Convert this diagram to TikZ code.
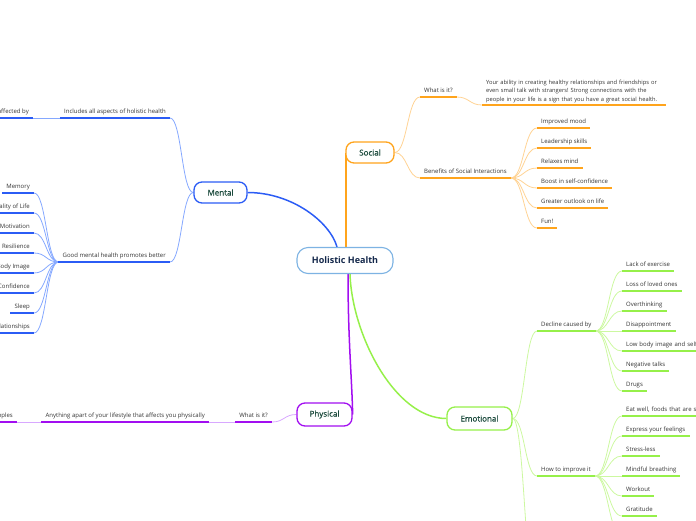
\documentclass[tikz,border=0pt]{standalone}
\usepackage{fontspec}
\setmainfont{Open Sans}
\newfontfamily\topicfont[FakeBold=0.6]{Open Sans}
\usetikzlibrary{calc}
\frenchspacing
\pgfdeclarelayer{bg}
\pgfsetlayers{bg,main}
\definecolor{cMen}{HTML}{2B5CF5}
\definecolor{cMenL}{HTML}{85A8FF}
\definecolor{cSoc}{HTML}{FFA41C}
\definecolor{cSocL}{HTML}{FFD394}
\definecolor{cPhy}{HTML}{A20EF0}
\definecolor{cPhyL}{HTML}{D8A8FF}
\definecolor{cEmo}{HTML}{96F04A}
\definecolor{cEmoL}{HTML}{CCF8A0}
\definecolor{cHHb}{HTML}{7DB3E3}
\definecolor{cHHt}{HTML}{14284B}
\definecolor{cTopT}{HTML}{1B4A3C}
\definecolor{cLeafT}{HTML}{333333}
\newcommand\leaffont{\fontsize{6}{8.6}\selectfont}
\newcommand\mmconn[3]{\draw[#1] let \p1=(#2), \p2=(#3) in (\p1) .. controls ({0.5*\x1+0.5*\x2},\y1) and ({0.5*\x1+0.5*\x2},\y2) .. (\p2);}
\tikzset{
  topic/.style={draw, rounded corners=8pt, line width=1.3pt, fill=white, text=cTopT,
    font=\topicfont\fontsize{8}{9}\selectfont, minimum height=21pt, inner sep=0pt},
  hhnode/.style={draw=cHHb, rounded corners=11pt, line width=1.1pt, fill=white, text=cHHt,
    font=\fontsize{9}{10}\selectfont\bfseries, minimum width=96pt, minimum height=26pt, inner sep=0pt},
  leaf/.style={inner xsep=4pt, inner ysep=2.5pt, text height=4.3pt, text depth=1.6pt,
    font=\leaffont, text=cLeafT},
  ul/.style={append after command={(\tikzlastnode.south west) edge[draw=#1, line width=1.8pt] (\tikzlastnode.south east)}},
  lR/.style={leaf, anchor=south west, ul=#1},
  lL/.style={leaf, anchor=south east, ul=#1},
  mainline/.style={line width=1.5pt},
  thinline/.style={line width=0.8pt}
}
\begin{document}
\begin{tikzpicture}[x=1pt,y=-1pt]
\useasboundingbox (0,0) rectangle (696,520);
\clip (0,0) rectangle (696,520);

% central and topic nodes
\node[hhnode] (hh) at (345,260.5) {Holistic Health};
\node[topic, draw=cMen, minimum width=53pt] (mental) at (220.5,192.5) {Mental};
\node[topic, draw=cSoc, minimum width=48pt] (social) at (370,152.5) {Social};
\node[topic, draw=cPhy, minimum width=55pt, minimum height=23pt] (physical) at (324.5,414.5) {Physical};
\node[topic, draw=cEmo, minimum width=65pt, minimum height=23pt] (emotional) at (479.5,418.5) {Emotional};

% Social
\node[lR=cSoc] (sq) at (420,97) {What is it?};
\node[lR=cSoc, text width=176pt, align=left, text height=, text depth=, inner ysep=2pt,
      font=\fontsize{5.75}{8.6}\selectfont] (spara) at (482,105) {Your ability in creating healthy relationships and friendships or\\ even small talk with strangers! Strong connections with the\\ people in your life is a sign that you have a great social health.};
\node[lR=cSoc] (sben) at (420,178) {Benefits of Social Interactions};
\node[lR=cSoc] (s1) at (537,128) {Improved mood};
\node[lR=cSoc] (s2) at (537,148) {Leadership skills};
\node[lR=cSoc] (s3) at (537,168) {Relaxes mind};
\node[lR=cSoc] (s4) at (537,188) {Boost in self-confidence};
\node[lR=cSoc] (s5) at (537,208) {Greater outlook on life};
\node[lR=cSoc] (s6) at (537,228) {Fun!};

% Mental
\node[lL=cMen] (minc) at (170,118) {Includes all aspects of holistic health};
\node[lL=cMen] (maff) at (33,118) {affected by};
\node[lL=cMen] (mgood) at (170,262) {Good mental health promotes better};
\node[lL=cMen] (m1) at (34,193) {Memory};
\node[lL=cMen] (m2) at (34,213) {Quality of Life};
\node[lL=cMen] (m3) at (34,233) {Motivation};
\node[lL=cMen] (m4) at (34,253) {Resilience};
\node[lL=cMen] (m5) at (34,273) {Body Image};
\node[lL=cMen] (m6) at (34,293) {Confidence};
\node[lL=cMen] (m7) at (34,313) {Sleep};
\node[lL=cMen] (m8) at (34,333) {Relationships};

% Physical
\node[lL=cPhy] (pq) at (272,422) {What is it?};
\node[lL=cPhy] (pany) at (209,422) {Anything apart of your lifestyle that affects you physically};
\node[lL=cPhy] (pex) at (17,422) {Examples};

% Emotional
\node[lR=cEmo] (edec) at (537,331) {Decline caused by};
\node[lR=cEmo] (ehow) at (537,476) {How to improve it};
\coordinate (e3) at (537,600);
\node[lR=cEmo] (d1) at (622,271) {Lack of exercise};
\node[lR=cEmo] (d2) at (622,291) {Loss of loved ones};
\node[lR=cEmo] (d3) at (622,311) {Overthinking};
\node[lR=cEmo] (d4) at (622,331) {Disappointment};
\node[lR=cEmo, text width=100pt, align=left] (d5) at (622,351) {Low body image and self-};
\node[lR=cEmo] (d6) at (622,371) {Negative talks};
\node[lR=cEmo] (d7) at (622,391) {Drugs};
\node[lR=cEmo, text width=100pt, align=left] (h1) at (622,416) {Eat well, foods that are su};
\node[lR=cEmo] (h2) at (622,436) {Express your feelings};
\node[lR=cEmo] (h3) at (622,456) {Stress-less};
\node[lR=cEmo] (h4) at (622,476) {Mindful breathing};
\node[lR=cEmo] (h5) at (622,496) {Workout};
\node[lR=cEmo] (h6) at (622,516) {Gratitude};
\coordinate (h7) at (622,536);

\begin{pgfonlayer}{bg}
% main branches
\draw[mainline, draw=cMen] ([xshift=-8pt]hh.north) .. controls (330,222) and (292,192.5) .. (mental.east);
\draw[line width=2pt, draw=cSoc] ([xshift=0.65pt]social.west |- hh.north) -- ([xshift=0.65pt]social.west);
\draw[mainline, draw=cPhy] ([xshift=3pt]hh.south) .. controls (348,340) and (352,380) .. (physical.east);
\draw[mainline, draw=cEmo] ([xshift=5pt]hh.south) .. controls (352,335) and (395,418.5) .. (emotional.west);

% social
\mmconn{thinline, draw=cSocL}{social.east}{sq.south west}
\mmconn{thinline, draw=cSocL}{sq.south east}{spara.south west}
\mmconn{thinline, draw=cSocL}{social.east}{sben.south west}
\foreach \c in {s1,s2,s3,s4,s5,s6}{\mmconn{thinline, draw=cSocL}{sben.south east}{\c.south west}}

% mental
\mmconn{thinline, draw=cMenL}{mental.west}{minc.south east}
\draw[thinline, draw=cMenL] (minc.south west) -- (maff.south east);
\mmconn{thinline, draw=cMenL}{mental.west}{mgood.south east}
\foreach \c in {m1,m2,m3,m4,m5,m6,m7,m8}{\mmconn{thinline, draw=cMenL}{mgood.south west}{\c.south east}}

% physical
\mmconn{thinline, draw=cPhyL}{physical.west}{pq.south east}
\draw[thinline, draw=cPhyL] (pq.south west) -- (pany.south east);
\draw[thinline, draw=cPhyL] (pany.south west) -- (pex.south east);

% emotional
\mmconn{thinline, draw=cEmoL}{emotional.east}{edec.south west}
\mmconn{thinline, draw=cEmoL}{emotional.east}{ehow.south west}
\mmconn{thinline, draw=cEmoL}{emotional.east}{e3}
\foreach \c in {d1,d2,d3,d4,d5,d6,d7}{\mmconn{thinline, draw=cEmoL}{edec.south east}{\c.south west}}
\foreach \c in {h1,h2,h3,h4,h5,h6}{\mmconn{thinline, draw=cEmoL}{ehow.south east}{\c.south west}}
\mmconn{thinline, draw=cEmoL}{ehow.south east}{h7}
\end{pgfonlayer}
\end{tikzpicture}
\end{document}
